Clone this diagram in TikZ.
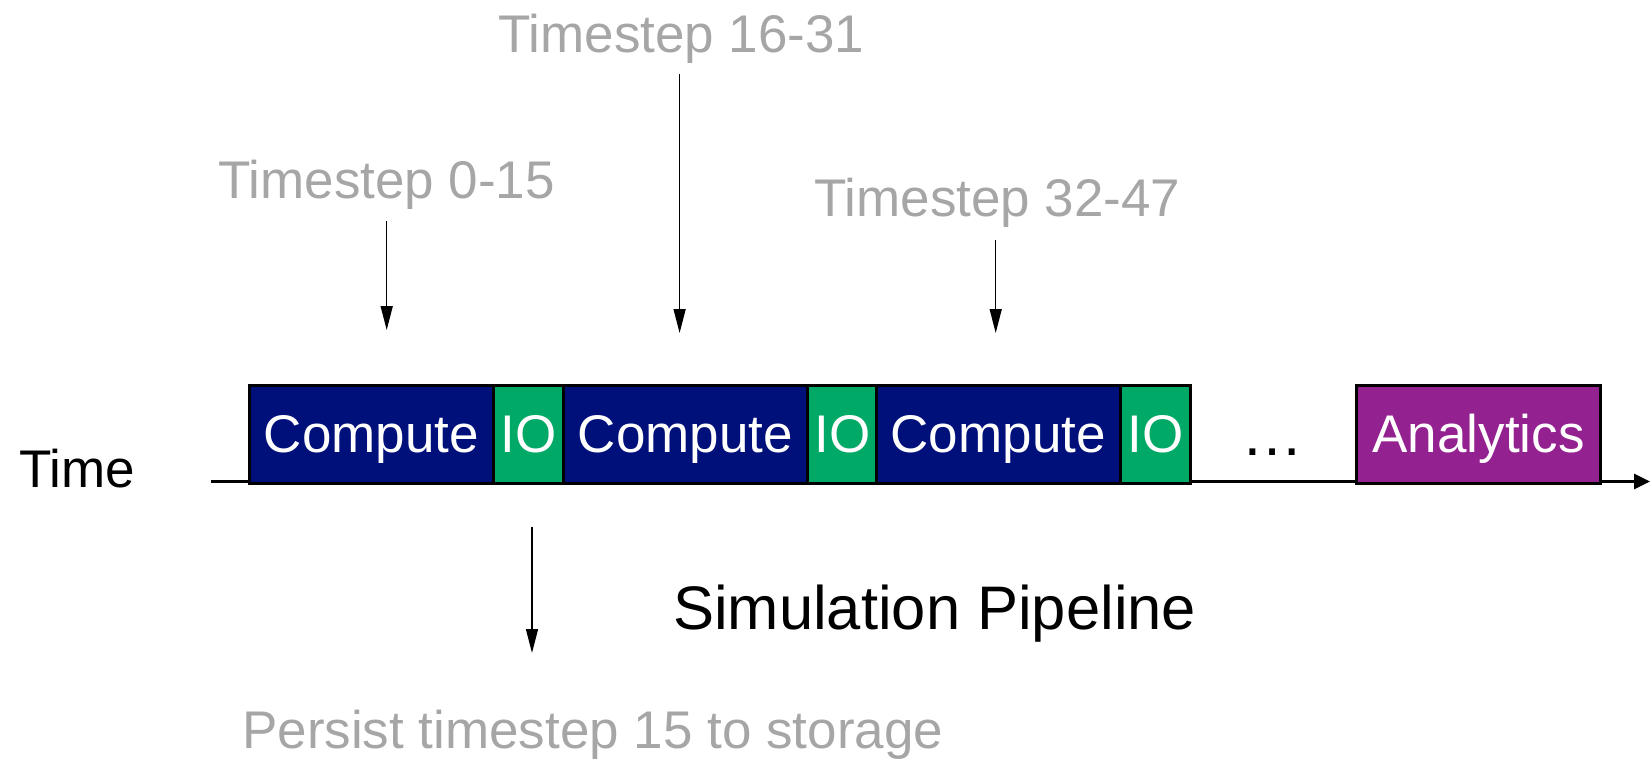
\documentclass[tikz,border=0pt]{standalone}
\usepackage{fontspec}
\setmainfont{Liberation Sans}
\usetikzlibrary{arrows.meta}
\definecolor{computeblue}{RGB}{0,16,122}
\definecolor{iogreen}{RGB}{0,169,101}
\definecolor{analyticspurple}{RGB}{148,33,144}
\definecolor{labelgray}{RGB}{166,166,166}
\tikzset{
  big/.style={font=\fontsize{53}{60}\selectfont},
  stage/.style={big, draw=black, line width=3pt, text=white, inner sep=0pt,
                anchor=north west, minimum height=98pt,
                text height=37.6pt, text depth=0pt},
  computebox/.style={stage, fill=computeblue, minimum width=244.4pt},
  iobox/.style={stage, fill=iogreen, minimum width=69.6pt},
  analyticsbox/.style={stage, fill=analyticspurple, minimum width=244pt},
  graylabel/.style={big, text=labelgray, inner sep=0pt, anchor=base west},
  blacklabel/.style={big, text=black, inner sep=0pt, anchor=base west},
  pointer/.style={line width=1.5pt, -{Triangle[length=24pt,width=12pt]}},
  axis/.style={line width=3pt, -{Triangle[length=16pt,width=15pt]}}
}
\begin{document}
\begin{tikzpicture}[x=1pt,y=-1pt]
  \useasboundingbox (0,0) rectangle (1652,761);

  % time axis
  \coordinate (axisstart) at (211,481.5);
  \coordinate (axisend) at (1650,481.5);
  \draw[axis] (axisstart) -- (axisend);
  \node[blacklabel] (time) at (19,487) {Time};

  % pipeline stages
  \node[computebox] (c1) at (247.6,383.5) {Compute};
  \node[iobox]      (io1) at (492,383.5) {IO};
  \node[computebox] (c2) at (561.6,383.5) {Compute};
  \node[iobox]      (io2) at (806,383.5) {IO};
  \node[computebox] (c3) at (874.5,383.5) {Compute};
  \node[iobox]      (io3) at (1119,383.5) {IO};
  \node[font=\fontsize{62}{66}\selectfont, inner sep=0pt, anchor=base] (dots) at (1272.5,455) {…};
  \node[analyticsbox] (an) at (1355,383.5) {Analytics};

  % timestep labels and their pointers
  \node[graylabel] (ts1) at (218,198) {Timestep 0-15};
  \node[graylabel] (ts2) at (498,52.5) {Timestep 16-31};
  \node[graylabel] (ts3) at (814,216) {Timestep 32-47};

  \coordinate (p1s) at (386.7,221);
  \coordinate (p1e) at (386.7,330);
  \coordinate (p2s) at (679.6,74);
  \coordinate (p2e) at (679.6,333);
  \coordinate (p3s) at (995.7,240);
  \coordinate (p3e) at (995.7,333);
  \draw[pointer] (p1s) -- (p1e);
  \draw[pointer] (p2s) -- (p2e);
  \draw[pointer] (p3s) -- (p3e);

  % persistence of the IO output
  \coordinate (p4s) at (532,527);
  \coordinate (p4e) at (532,653);
  \draw[pointer] (p4s) -- (p4e);
  \node[graylabel] (persist) at (242,748) {Persist timestep 15 to storage};

  \node[blacklabel, font=\fontsize{61.5}{66}\selectfont] (title) at (673,629) {Simulation Pipeline};
\end{tikzpicture}
\end{document}
